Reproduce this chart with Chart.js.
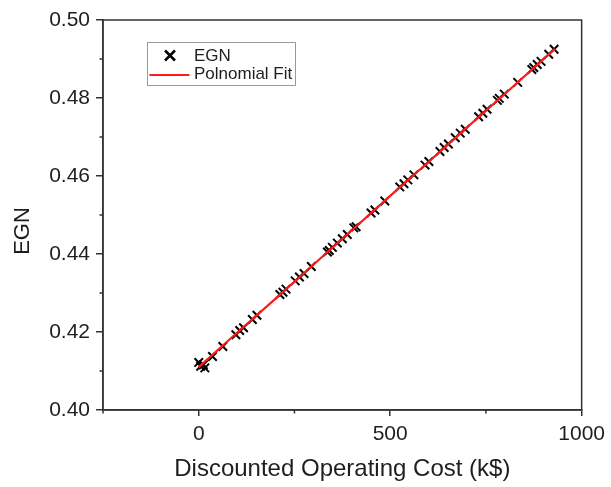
<!DOCTYPE html>
<html><head><meta charset="utf-8">
<script src="https://cdn.jsdelivr.net/npm/chart.js@4"></script>
<style>html,body{margin:0;padding:0;background:#fff}canvas{display:block}</style>
</head><body>
<canvas id="c" width="611" height="487"></canvas>
<script>
// ---- data ----
const egnX = [0, 5, 12, 16, 36, 63, 97, 107, 117, 140, 152, 212, 220, 228, 252, 263, 275, 294,
  336, 341, 349, 362, 375, 388, 405, 411, 450, 460, 486, 525, 536, 546, 562, 591, 601,
  630, 641, 652, 670, 683, 696, 731, 742, 753, 780, 785, 798, 833, 870, 875, 884, 894, 914, 928];
const egnY = [0.4122, 0.4112, 0.4116, 0.4108, 0.4137, 0.4163, 0.4193, 0.4204, 0.4211, 0.4232, 0.4243,
  0.4296, 0.4302, 0.4310, 0.4331, 0.4341, 0.4350, 0.4368,
  0.4405, 0.4409, 0.4417, 0.4428, 0.4439, 0.4450, 0.4467, 0.4470, 0.4505, 0.4513, 0.4536,
  0.4572, 0.4580, 0.4590, 0.4603, 0.4628, 0.4637, 0.4663, 0.4673, 0.4682, 0.4698, 0.4710, 0.4720,
  0.4752, 0.4761, 0.4771, 0.4794, 0.4799, 0.4810, 0.4840, 0.4873, 0.4878, 0.4886, 0.4894, 0.4912, 0.4925];
const fitX = [0, 100, 200, 300, 400, 500, 600, 700, 800, 930];
const fitY = [0.4110, 0.4198, 0.4285, 0.4373, 0.4461, 0.4549, 0.4636, 0.4724, 0.4811, 0.4926];
const seriesNames = ['EGN', 'Polnomial Fit'];
const xTickValues = [0, 500, 1000];
const xMinorTicks = [-250, 250, 750];
const yTickValues = [0.40, 0.42, 0.44, 0.46, 0.48, 0.50];
const yMinorTicks = [0.41, 0.43, 0.45, 0.47, 0.49];
const xTitle = 'Discounted Operating Cost (k$)';
const yTitle = 'EGN';

const FONT = "'Liberation Sans', Arial, sans-serif";
const AXIS = '#333';
const TEXT = '#1e1e1e';

const framePlugin = {
  id: 'frame',
  afterDraw(chart) {
    const {ctx, chartArea: a, scales: {x, y}} = chart;
    ctx.save();
    ctx.strokeStyle = AXIS; ctx.lineWidth = 1.5;
    ctx.strokeRect(a.left, a.top, a.right - a.left, a.bottom - a.top);
    ctx.beginPath();
    xMinorTicks.forEach(v => { const p = x.getPixelForValue(v); ctx.moveTo(p, a.bottom); ctx.lineTo(p, a.bottom + 3.5); });
    yMinorTicks.forEach(v => { const p = y.getPixelForValue(v); ctx.moveTo(a.left, p); ctx.lineTo(a.left - 3.5, p); });
    ctx.stroke();
    // y axis title
    ctx.save();
    ctx.translate(22.5, 231);
    ctx.rotate(-Math.PI / 2);
    ctx.fillStyle = TEXT; ctx.font = '22px ' + FONT; ctx.textAlign = 'center'; ctx.textBaseline = 'middle';
    ctx.fillText(yTitle, 0, 0);
    ctx.restore();
    // legend
    const lx = a.left + 44.5, ly = a.top + 22.5;
    ctx.strokeStyle = '#9a9a9a'; ctx.lineWidth = 1;
    ctx.strokeRect(lx, ly, 148, 43);
    ctx.strokeStyle = '#000'; ctx.lineWidth = 2.5;
    const cx = lx + 22.5, cy = ly + 13;
    ctx.beginPath();
    ctx.moveTo(cx - 5, cy - 5); ctx.lineTo(cx + 5, cy + 5);
    ctx.moveTo(cx + 5, cy - 5); ctx.lineTo(cx - 5, cy + 5);
    ctx.stroke();
    ctx.strokeStyle = '#ff1a1a'; ctx.lineWidth = 2;
    ctx.beginPath(); ctx.moveTo(lx + 2, ly + 32.5); ctx.lineTo(lx + 42, ly + 32.5); ctx.stroke();
    ctx.fillStyle = TEXT; ctx.font = '17px ' + FONT; ctx.textBaseline = 'middle'; ctx.textAlign = 'left';
    ctx.fillText(seriesNames[0], lx + 46.5, cy + 1);
    ctx.fillText(seriesNames[1], lx + 46.5, ly + 32);
    ctx.restore();
  }
};

new Chart(document.getElementById('c'), {
  type: 'scatter',
  data: {
    datasets: [
      { label: seriesNames[0], data: egnX.map((v, i) => ({x: v, y: egnY[i]})),
        pointStyle: 'crossRot', pointRadius: 6, pointBorderWidth: 2, borderColor: '#000', backgroundColor: '#000', order: 2 },
      { label: seriesNames[1], data: fitX.map((v, i) => ({x: v, y: fitY[i]})), showLine: true,
        pointRadius: 0, borderColor: '#ff1a1a', borderWidth: 2.2, order: 1 }
    ]
  },
  options: {
    responsive: false, animation: false, devicePixelRatio: 1,
    events: [],
    layout: { padding: { top: 20, right: 26, left: 0, bottom: 0 } },
    plugins: { legend: { display: false }, tooltip: { enabled: false } },
    scales: {
      x: {
        type: 'linear', min: -250, max: 1000,
        afterBuildTicks: s => { s.ticks = xTickValues.map(v => ({value: v})); },
        afterFit: s => { s.height = 77; },
        grid: { drawOnChartArea: false, drawTicks: true, tickLength: 6, color: AXIS, lineWidth: 1.5 },
        border: { display: true, color: AXIS, width: 1.5 },
        ticks: { padding: 6, color: TEXT, font: { size: 21, family: FONT }, maxRotation: 0, callback: v => String(v) },
        title: { display: true, text: xTitle, color: TEXT, font: { size: 24, family: FONT }, padding: { top: 0, bottom: 3 } }
      },
      y: {
        type: 'linear', min: 0.40, max: 0.50,
        afterBuildTicks: s => { s.ticks = yTickValues.map(v => ({value: v})); },
        afterFit: s => { s.width = 103; },
        grid: { drawOnChartArea: false, drawTicks: true, tickLength: 7, color: AXIS, lineWidth: 1.5 },
        border: { display: true, color: AXIS, width: 1.5 },
        ticks: { padding: 6, color: TEXT, font: { size: 21, family: FONT }, callback: v => Number(v).toFixed(2) },
        title: { display: false }
      }
    }
  },
  plugins: [framePlugin]
});
</script>
</body></html>
